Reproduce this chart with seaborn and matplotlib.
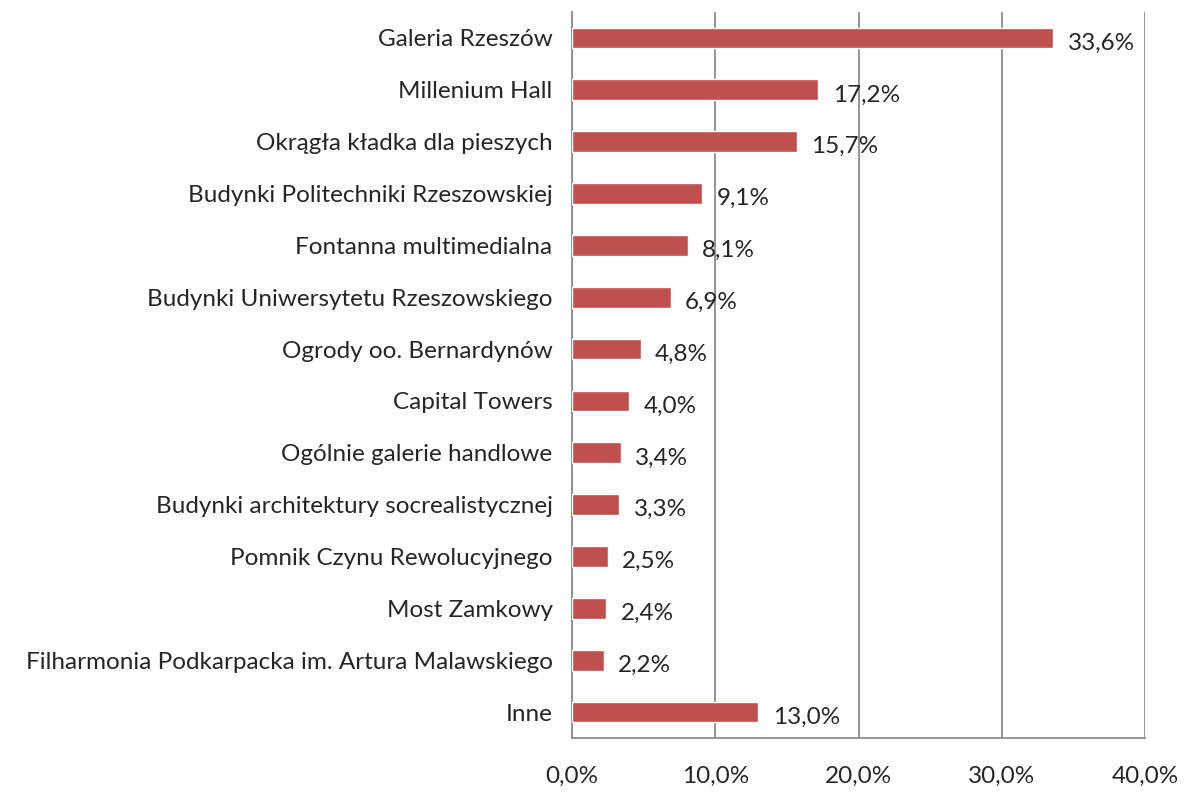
import matplotlib
matplotlib.use("Agg")
import matplotlib.pyplot as plt
import seaborn as sns
from matplotlib.ticker import FuncFormatter

categories = [
    "Galeria Rzeszów",
    "Millenium Hall",
    "Okrągła kładka dla pieszych",
    "Budynki Politechniki Rzeszowskiej",
    "Fontanna multimedialna",
    "Budynki Uniwersytetu Rzeszowskiego",
    "Ogrody oo. Bernardynów",
    "Capital Towers",
    "Ogólnie galerie handlowe",
    "Budynki architektury socrealistycznej",
    "Pomnik Czynu Rewolucyjnego",
    "Most Zamkowy",
    "Filharmonia Podkarpacka im. Artura Malawskiego",
    "Inne",
]
values = [33.6, 17.2, 15.7, 9.1, 8.1, 6.9, 4.8, 4.0, 3.4, 3.3, 2.5, 2.4, 2.2, 13.0]
x_ticks = [0, 10, 20, 30, 40]

BAR = "#C0504D"
GRID = "#8C8C8C"


def pct(v):
    return f"{v:.1f}%".replace(".", ",")


sns.set_style("white")
plt.rcParams["font.family"] = ["Lato", "DejaVu Sans"]

fig = plt.figure(figsize=(11.84, 7.92), dpi=100)
ax = fig.add_axes([0.4831, 0.0682, 0.484, 0.9167])

sns.barplot(x=values, y=categories, color=BAR, width=0.4, orient="h",
            saturation=1, ax=ax, zorder=3)

ax.set_xlim(0, 40)
ax.set_ylim(len(categories) - 0.5, -0.5)
ax.set_xticks(x_ticks)
ax.xaxis.set_major_formatter(FuncFormatter(lambda v, p: pct(v)))
ax.grid(axis="x", color=GRID, linewidth=1.3, zorder=0)
ax.set_xlabel("")
ax.set_ylabel("")

for side in ["top", "right"]:
    ax.spines[side].set_visible(False)
for side in ["left", "bottom"]:
    ax.spines[side].set_color(GRID)
    ax.spines[side].set_linewidth(1.3)

# y ticks at category boundaries, labels in the middle
ax.set_yticks([i - 0.5 for i in range(len(categories) + 1)], minor=False)
ax.set_yticklabels([""] * (len(categories) + 1))
ax.set_yticks(range(len(categories)), minor=True)
ax.set_yticklabels(categories, minor=True)
ax.tick_params(axis="y", which="major", length=5, width=1.3, color=GRID, direction="out")
ax.tick_params(axis="y", which="minor", length=0, pad=14, labelsize=17.5)
ax.tick_params(axis="x", length=7, width=1.3, color=GRID, direction="out", pad=13, labelsize=17.5)

for i, v in enumerate(values):
    ax.text(v + 1.0, i + 0.1, pct(v), va="center", ha="left", fontsize=17.5)

fig.savefig("out.png", dpi=100, facecolor="white")
